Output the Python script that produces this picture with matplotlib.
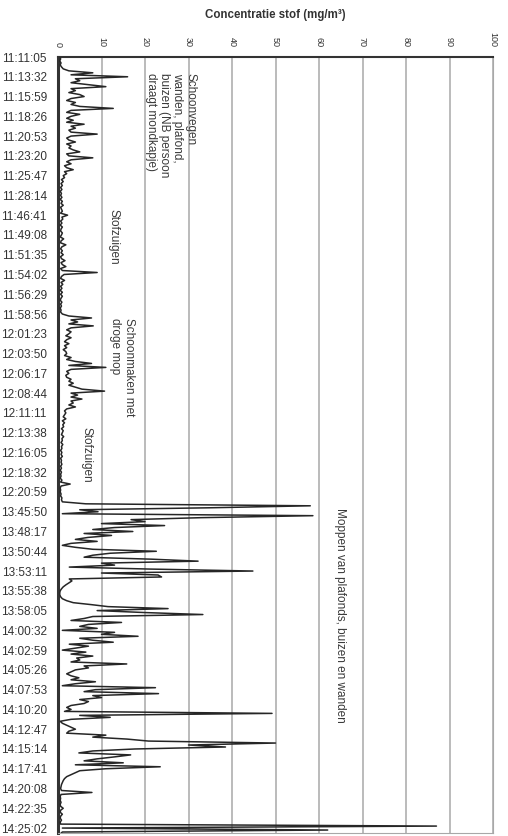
import numpy as np
import matplotlib.pyplot as plt

plt.rcParams["font.family"] = ["Liberation Sans", "DejaVu Sans"]

# tijdstippen op de categorie-as (elke 2:27 min een label)
tijden = [
    "11:11:05", "11:13:32", "11:15:59", "11:18:26", "11:20:53", "11:23:20",
    "11:25:47", "11:28:14", "11:46:41", "11:49:08", "11:51:35", "11:54:02",
    "11:56:29", "11:58:56", "12:01:23", "12:03:50", "12:06:17", "12:08:44",
    "12:11:11", "12:13:38", "12:16:05", "12:18:32", "12:20:59", "13:45:50",
    "13:48:17", "13:50:44", "13:53:11", "13:55:38", "13:58:05", "14:00:32",
    "14:02:59", "14:05:26", "14:07:53", "14:10:20", "14:12:47", "14:15:14",
    "14:17:41", "14:20:08", "14:22:35", "14:25:02",
]
metingen_per_tijd = 10

# concentratie stof (mg/m3), 10 metingen per label
concentratie = [
    0.5, 0.6, 0.4, 0.7, 0.5, 0.8, 1.2, 2.5, 8, 3,              # 11:11:05
    16, 4, 5, 3, 7, 11, 3, 4, 2.5, 5,                          # 11:13:32
    6, 3, 2, 4, 3, 5, 12.7, 3, 2, 5,                           # 11:15:59
    3, 2, 3.5, 2, 6, 3, 4, 2.5, 3, 9,                          # 11:18:26
    3, 2, 2.5, 4, 2, 3, 2.5, 3.5, 5, 2,                        # 11:20:53
    2.5, 8, 3, 2, 3, 1.5, 2, 3.5, 1.5, 2,                      # 11:23:20
    1.2, 1.5, 0.8, 1.2, 0.7, 1.0, 0.6, 0.9, 0.5, 0.8,          # 11:25:47
    0.6, 0.9, 0.5, 1.0, 0.7, 1.2, 0.6, 0.8, 1.0, 0.6,          # 11:28:14
    2.2, 0.9, 1.1, 0.6, 0.9, 0.5, 1.0, 0.7, 0.6, 1.0,          # 11:46:41
    0.8, 0.5, 1.3, 0.7, 0.6, 1.8, 0.9, 0.6, 1.0, 0.7,          # 11:49:08
    1.2, 0.6, 0.8, 1.6, 0.7, 1.0, 1.8, 0.6, 1.0, 9,            # 11:51:35
    1.4, 0.8, 0.6, 1.5, 0.7, 1.1, 0.6, 0.9, 0.5, 1.0,          # 11:54:02
    0.6, 1.0, 0.7, 0.5, 0.9, 0.6, 0.8, 0.5, 0.7, 0.6,          # 11:56:29
    1.0, 2.5, 7.7, 3, 4.5, 2.5, 8.1, 3, 2, 3,                  # 11:58:56
    2.5, 1.8, 3, 2, 1.5, 2.5, 1.5, 2, 1.2, 1.8,                # 12:01:23
    2, 1.5, 3, 2, 4, 7.7, 2.5, 11, 3, 2,                       # 12:03:50
    2.5, 1.8, 2, 3, 2.5, 3.5, 2.5, 4, 5.5, 10.7,               # 12:06:17
    3, 4.5, 3, 5.5, 3, 3.5, 2.5, 4, 2, 1.5,                    # 12:08:44
    1.8, 1.5, 1.2, 1.8, 1.0, 1.5, 1.1, 1.3, 0.8, 1.2,          # 12:11:11
    1.0, 0.8, 1.3, 0.9, 1.0, 0.7, 1.1, 0.8, 0.9, 0.6,          # 12:13:38
    0.9, 0.7, 1.0, 0.6, 0.8, 0.7, 0.9, 0.6, 0.8, 0.5,          # 12:16:05
    0.8, 0.6, 0.7, 0.5, 0.9, 0.6, 2.8, 0.7, 0.5, 0.6,          # 12:18:32
    0.5, 0.7, 0.6, 0.9, 0.8, 1.0, 6.4, 58, 35, 5,              # 12:20:59
    9.2, 1, 58.6, 33, 16.8, 20, 10, 24.5, 13, 8,               # 13:45:50
    17.2, 6, 12.3, 6.9, 4, 9, 3, 1, 4, 8,                      # 13:48:17
    22.6, 12, 8, 6, 21.5, 32.2, 10, 13, 2.6, 21,               # 13:50:44
    44.8, 10, 23, 23.8, 2.6, 3.2, 2.5, 1.8, 1.2, 0.8,          # 13:53:11
    0.5, 0.4, 0.4, 0.6, 1.0, 2.0, 3.5, 7.7, 11.5, 25.3,        # 13:55:38
    9, 20, 33.3, 8, 6, 3, 14.6, 7, 5, 9,                       # 13:58:05
    1, 13, 10, 18.4, 5, 8, 12.7, 2.6, 7, 4,                    # 14:00:32
    1, 6.4, 3, 8, 4.3, 5, 3, 15.8, 6, 7,                       # 14:02:59
    4, 3, 2, 3, 4.8, 3, 8.6, 4, 1, 22.4,                       # 14:05:26
    8.6, 6, 23.1, 8, 10, 5, 7, 6, 3, 2,                        # 14:07:53
    3, 1.5, 49.2, 5, 12, 3, 0.5, 1, 2, 3,                      # 14:10:20
    4, 2.5, 2, 11, 8, 15.9, 20.8, 50, 30, 38.5,                # 14:12:47
    17.7, 8, 4.8, 16.7, 13, 9, 6, 15, 4, 23.5,                 # 14:15:14
    11, 5, 4, 3, 2, 1.5, 1.2, 1.0, 0.8, 0.7,                   # 14:17:41
    0.6, 0.8, 7.8, 0.7, 0.5, 0.6, 0.5, 0.7, 0.5, 0.6,          # 14:20:08
    1.2, 0.6, 0.5, 1.0, 0.6, 0.5, 0.8, 0.5, 0.6, 87,           # 14:22:35
    1.0, 62, 1.0, 0.5,                                         # 14:25:02
]

positie = np.arange(len(concentratie)) / metingen_per_tijd

fig = plt.figure(figsize=(5.08, 8.36), dpi=100)
ax = fig.add_axes([58 / 508, 3 / 836, 435 / 508, 776 / 836])

ax.plot(concentratie, positie, color="#262626", lw=1.1, zorder=3)

ax.set_xlim(0, 100)
ax.set_ylim(39.25, 0)

ax.set_xticks(range(0, 101, 10))
ax.xaxis.tick_top()
ax.xaxis.set_label_position("top")
ax.tick_params(axis="x", length=0, pad=7, labelsize=6.5, labelrotation=270,
               colors="#333333")
ax.set_xlabel("Concentratie stof (mg/m³)", fontsize=8.3, fontweight="bold",
              labelpad=10, color="#333333")

ax.set_yticks(range(len(tijden)))
ax.set_yticklabels(tijden)
ax.tick_params(axis="y", length=0, pad=8, labelsize=8.5, colors="#333333")

ax.grid(axis="x", color="#a8a8a8", lw=1.1)
ax.grid(axis="y", visible=False)

ax.spines["top"].set_color("#333333")
ax.spines["top"].set_linewidth(1.5)
ax.spines["left"].set_color("#333333")
ax.spines["left"].set_linewidth(2.2)
ax.spines["right"].set_color("#a8a8a8")
ax.spines["bottom"].set_color("#a8a8a8")

tekst = dict(rotation=270, fontsize=8.5, color="#3a3a3a", ha="center",
             va="top", multialignment="left", linespacing=1.15)
ax.text(25.9, 0.81, "Schoonvegen\nwanden, plafond,\nbuizen (NB persoon\ndraagt mondkapje)", **tekst)
ax.text(12.8, 7.7, "Stofzuigen", **tekst)
ax.text(14.7, 13.2, "Schoonmaken met\ndroge mop", **tekst)
ax.text(6.6, 18.7, "Stofzuigen", **tekst)
ax.text(64.8, 22.8, "Moppen van plafonds, buizen en wanden", **tekst)

fig.savefig("out.png", dpi=100)
